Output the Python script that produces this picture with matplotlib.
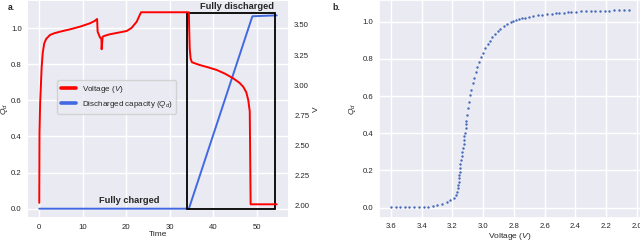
import matplotlib
matplotlib.use("Agg")
import matplotlib.pyplot as plt
import seaborn as sns
from matplotlib.patches import Rectangle

# ---------------- data ----------------
time_v = [0, 0.05, 0.2, 0.55, 0.8, 1.15, 1.6, 2.46, 3.5, 4.75, 7.06, 9.35, 11.65, 12.7, 13.3,
          13.42, 13.95, 14.3, 14.34, 14.57, 15.2, 16.25, 18.55, 20.1, 21.2, 22.4, 23.0, 23.4,
          34.4, 34.45, 34.6, 34.8, 35.1, 36.9, 38.8, 40.8, 42.7, 44.6, 46.0, 46.9, 47.6,
          48.05, 48.4, 48.6, 54.6]
voltage = [2.02, 2.6, 2.85, 3.15, 3.27, 3.348, 3.385, 3.417, 3.432, 3.444, 3.464, 3.486, 3.514, 3.533, 3.55,
           3.444, 3.398, 3.381, 3.298, 3.403, 3.412, 3.423, 3.439, 3.45, 3.475, 3.527, 3.575, 3.606,
           3.606, 3.5, 3.3, 3.22, 3.19, 3.167, 3.148, 3.126, 3.095, 3.056, 3.02, 2.986, 2.94,
           2.876, 2.78, 2.008, 2.008]

time_q = [0, 34.4, 49.0, 54.6]
capacity = [0, 0, 1.065, 1.07]

box_t = [33.9, 54.2]
box_q = [0.0, 1.085]

scatter_v = [3.600, 3.569, 3.541, 3.511, 3.480, 3.450, 3.417, 3.387, 3.356, 3.326, 3.298, 3.267,
             3.236, 3.215, 3.193, 3.180, 3.173, 3.167, 3.163, 3.160, 3.158, 3.156, 3.154, 3.150,
             3.148, 3.143, 3.139, 3.135, 3.132, 3.128, 3.126, 3.122, 3.119, 3.115, 3.112, 3.109,
             3.104, 3.098, 3.091, 3.085, 3.076, 3.067, 3.058, 3.047, 3.039, 3.028, 3.014, 3.001,
             2.986, 2.971, 2.958, 2.940, 2.922, 2.905, 2.888, 2.867, 2.844, 2.816, 2.805, 2.786,
             2.765, 2.745, 2.725, 2.703, 2.675, 2.644, 2.616, 2.583, 2.555, 2.527, 2.506, 2.476,
             2.445, 2.427, 2.393, 2.361, 2.333, 2.301, 2.270, 2.240, 2.210, 2.179, 2.149, 2.118,
             2.086, 2.052]
scatter_q = [0.002, 0.002, 0.002, 0.002, 0.002, 0.002, 0.003, 0.004, 0.005, 0.008, 0.012, 0.019,
             0.030, 0.040, 0.050, 0.068, 0.086, 0.104, 0.122, 0.140, 0.158, 0.176, 0.194, 0.212,
             0.233, 0.255, 0.278, 0.299, 0.323, 0.344, 0.364, 0.385, 0.403, 0.427, 0.448, 0.468,
             0.498, 0.534, 0.570, 0.606, 0.633, 0.669, 0.696, 0.731, 0.758, 0.785, 0.808, 0.833,
             0.857, 0.880, 0.898, 0.918, 0.936, 0.952, 0.963, 0.977, 0.988, 0.997, 1.002, 1.007,
             1.013, 1.018, 1.022, 1.026, 1.030, 1.034, 1.037, 1.040, 1.043, 1.045, 1.047, 1.049,
             1.051, 1.052, 1.054, 1.055, 1.056, 1.057, 1.058, 1.059, 1.060, 1.060, 1.061, 1.061,
             1.062, 1.063]

left_yticks = [0.0, 0.2, 0.4, 0.6, 0.8, 1.0]
left_xticks = [0, 10, 20, 30, 40, 50]
volt_ticks = [2.00, 2.25, 2.50, 2.75, 3.00, 3.25, 3.50]
right_xticks = [3.6, 3.4, 3.2, 3.0, 2.8, 2.6, 2.4, 2.2, 2.0]

# ---------------- style ----------------
sns.set_theme(style="darkgrid")
plt.rcParams['font.family'] = ['Liberation Sans', 'DejaVu Sans']
plt.rcParams['mathtext.fontset'] = 'custom'
plt.rcParams['mathtext.rm'] = 'Liberation Sans'
plt.rcParams['mathtext.it'] = 'Liberation Sans:italic'
plt.rcParams['mathtext.bf'] = 'Liberation Sans:bold'

TICK = 5.6
LAB = 6.0
txtcol = '#262626'

fig = plt.figure(figsize=(6.4, 2.42), dpi=100)

# ---------------- panel a ----------------
ax = fig.add_axes([27.4 / 640, 24 / 242, 261.2 / 640, 218 / 242])
ax2 = ax.twinx()
ax2.grid(False)

lq, = ax.plot(time_q, capacity, color='royalblue', lw=1.4, zorder=3)
lv, = ax2.plot(time_v, voltage, color='red', lw=1.4, zorder=2)
ax.add_patch(Rectangle((box_t[0], box_q[0]), box_t[1] - box_t[0], box_q[1] - box_q[0],
                       fill=False, edgecolor='black', lw=1.3, zorder=4))

ax.set_xlim(-2.73, 57.33)
ax.set_ylim(-0.0515, 1.155)
ax2.set_ylim(1.894, 3.708)
ax.set_xticks(left_xticks)
ax.set_yticks(left_yticks)
ax.set_yticklabels([f"{v:.1f}" for v in left_yticks])
ax2.set_yticks(volt_ticks)
ax2.set_yticklabels([f"{v:.2f}" for v in volt_ticks])
for a in (ax, ax2):
    a.tick_params(axis='both', labelsize=TICK, length=0, pad=4, colors=txtcol)
ax.set_xlabel('Time', fontsize=LAB, labelpad=0.5, color=txtcol)
ax.set_ylabel('$Q_d$', fontsize=LAB, labelpad=0.5, color=txtcol)
ax2.set_ylabel('V', fontsize=LAB, labelpad=3, color=txtcol)

ax.text(45.5, 1.117, 'Fully discharged', fontsize=6.7, fontweight='bold', ha='center', va='center', zorder=5)
ax.text(20.8, 0.044, 'Fully charged', fontsize=6.7, fontweight='bold', ha='center', va='center', zorder=5)

leg = ax2.legend([lv, lq], ['Voltage ($V$)', 'Discharged capacity ($Q_d$)'], loc='upper left',
                 bbox_to_anchor=(0.098, 0.652), fontsize=5.8, frameon=True, framealpha=0.8,
                 handlelength=1.9, handletextpad=0.7, borderpad=0.45, labelspacing=0.55)
for h in leg.get_lines():
    h.set_linewidth(2.6)

fig.text(8 / 640, 1 - 8 / 242, 'a.', fontsize=6.2, fontweight='bold', va='center', ha='left')

# ---------------- panel b ----------------
bx = fig.add_axes([379.1 / 640, 24.3 / 242, 261.9 / 640, 217.7 / 242])
bx.scatter(scatter_v, scatter_q, s=3.0, color='#4468b8', linewidths=0, zorder=3)
bx.set_xlim(3.6775, 1.9725)
bx.set_ylim(-0.0538, 1.1167)
bx.set_xticks(right_xticks)
bx.set_xticklabels([f"{v:.1f}" for v in right_xticks])
bx.set_yticks(left_yticks)
bx.set_yticklabels([f"{v:.1f}" for v in left_yticks])
bx.tick_params(axis='both', labelsize=TICK, length=0, pad=4, colors=txtcol)
bx.set_xlabel('Voltage ($V$)', fontsize=LAB, labelpad=0.3, color=txtcol)
bx.set_ylabel('$Q_d$', fontsize=LAB, labelpad=3.5, color=txtcol)

fig.text(332 / 640, 1 - 7 / 242, 'b.', fontsize=6.2, fontweight='bold', va='center', ha='left')

fig.savefig('out.png', dpi=100)
